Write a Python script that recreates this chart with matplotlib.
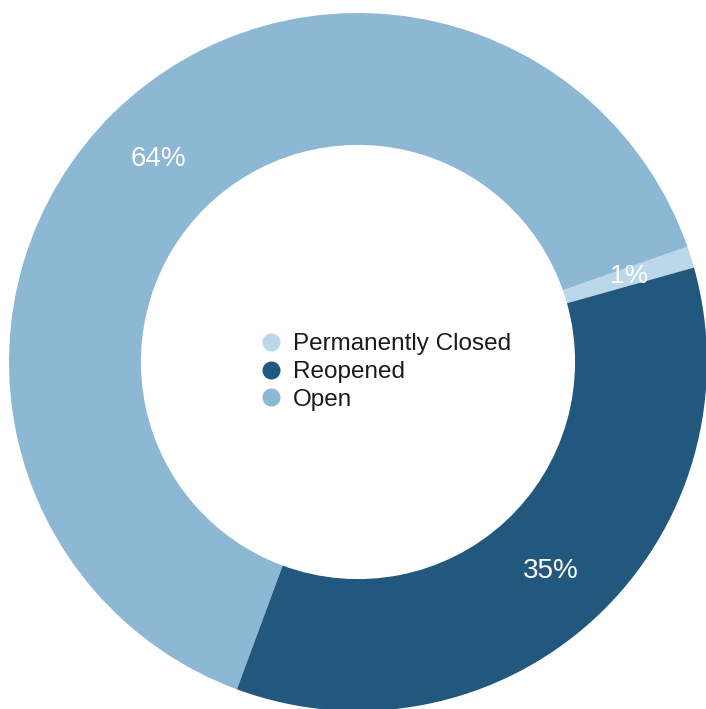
import matplotlib.pyplot as plt
from matplotlib.lines import Line2D

plt.rcParams['font.family'] = ['Liberation Sans', 'DejaVu Sans']

# Status share of locations
categories = ['Permanently Closed', 'Open', 'Reopened']
shares = [1, 64, 35]
colors = ['#bcd7ea', '#8db8d4', '#22577e']
legend_order = ['Permanently Closed', 'Reopened', 'Open']

W, H = 706, 709
cx, cy, R = 358, 362, 349  # ring centre and outer radius, in pixels

fig = plt.figure(figsize=(W / 100, H / 100), dpi=100)
ax = fig.add_axes([0, 0, 1, 1])

wedges, _, autotexts = ax.pie(
    shares, colors=colors, startangle=15.7, counterclock=True,
    radius=1.0, autopct='%d%%', pctdistance=0.815,
    wedgeprops=dict(width=0.378, linewidth=0),
    textprops=dict(color='white', fontsize=20))
autotexts[0].set_fontsize(19)

# put the ring where it sits on the page (partly cropped at the bottom)
ax.set_xlim(-cx / R, (W - cx) / R)
ax.set_ylim(-(H - cy) / R, cy / R)
ax.set_aspect('auto')
ax.axis('off')

handles = [Line2D([], [], linestyle='none', marker='o', markersize=13,
                  markerfacecolor=colors[categories.index(name)],
                  markeredgewidth=0)
           for name in legend_order]
fig.legend(handles, legend_order, loc='center left',
           bbox_to_anchor=(259 / W, 1 - 372 / H), frameon=False,
           fontsize=17.5, handlelength=1.0, handletextpad=0.4,
           borderpad=0, borderaxespad=0, labelspacing=0.24,
           labelcolor='#1a1a1a')

fig.savefig('out.png', dpi=100)
